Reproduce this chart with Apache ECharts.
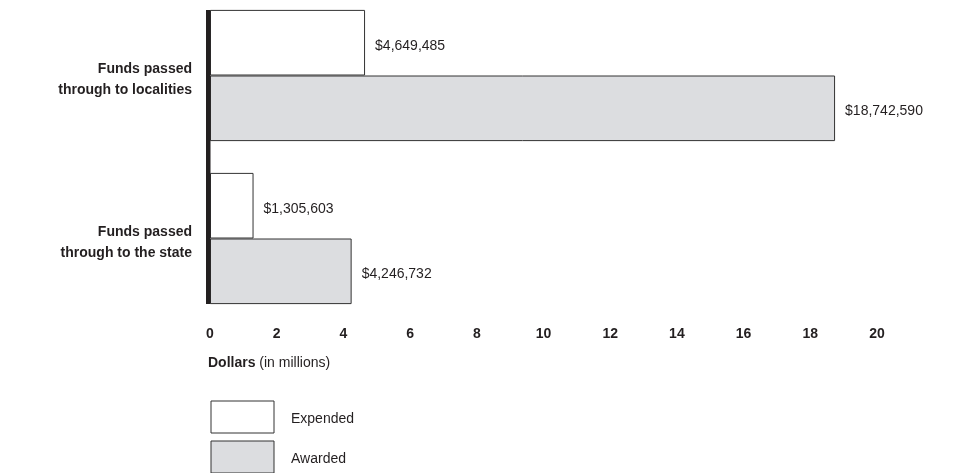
<!DOCTYPE html>
<html>
<head>
<meta charset="utf-8">
<script src="https://cdn.jsdelivr.net/npm/echarts@6/dist/echarts.min.js"></script>
<style>
  html, body { margin: 0; padding: 0; background: #fff; }
  #chart { width: 967px; height: 473px; }
</style>
</head>
<body>
<div id="chart"></div>
<script>
// categories, top to bottom
const categories = ['Funds passed\nthrough to localities', 'Funds passed\nthrough to the state'];
// dollars
const expended = [4649485, 1305603];
const awarded = [18742590, 4246732];
const xTicks = [0, 2, 4, 6, 8, 10, 12, 14, 16, 18, 20];

const ink = '#231f20';
const font = '"Liberation Sans", Arial, Helvetica, sans-serif';
const fmt = v => '$' + v.toLocaleString('en-US');

const chart = echarts.init(document.getElementById('chart'));

const barStyle = (fill) => ({ color: fill, borderColor: '#333', borderWidth: 1 });
const valueLabel = {
  show: true,
  position: 'right',
  distance: 10,
  offset: [0, 3],
  color: ink,
  fontFamily: font,
  fontSize: 14,
  formatter: p => fmt(p.data.raw)
};
// one legend box per series, stacked
const legendBox = (name, top) => ({
  left: 210.5,
  top: top,
  itemWidth: 63,
  itemHeight: 32,
  icon: 'rect',
  padding: 0,
  selectedMode: false,
  itemStyle: { borderWidth: 1, borderColor: '#333' },
  formatter: n => '{t|' + n + '}',
  textStyle: {
    fontFamily: font, fontSize: 14, color: ink, padding: [0, 0, 0, 12],
    rich: { t: { fontFamily: font, fontSize: 14, color: ink, lineHeight: 16, padding: [5, 0, 0, 0] } }
  },
  data: [name]
});

chart.setOption({
  animation: false,
  textStyle: { fontFamily: font, color: ink },
  grid: { left: 210, right: 90, top: -6, bottom: 153, outerBoundsMode: 'none', containLabel: false },
  title: {
    text: '{b|Dollars} (in millions)',
    left: 208,
    top: 356,
    padding: 0,
    textStyle: {
      fontFamily: font, fontSize: 14, fontWeight: 'normal', color: ink,
      rich: { b: { fontFamily: font, fontSize: 14, fontWeight: 'bold', color: ink } }
    }
  },
  legend: [legendBox('Expended', 400.5), legendBox('Awarded', 440.5)],
  xAxis: {
    type: 'value',
    min: 0,
    max: 20,
    interval: 2,
    axisLine: { show: false },
    axisTick: { show: false },
    splitLine: { show: false },
    axisLabel: {
      margin: 7,
      fontFamily: font,
      fontSize: 14,
      fontWeight: 'bold',
      color: ink,
      formatter: v => xTicks.includes(v) ? String(v) : ''
    }
  },
  yAxis: {
    type: 'category',
    inverse: true,
    data: categories,
    axisLine: { show: false },
    axisTick: { show: false },
    axisLabel: {
      margin: 18,
      align: 'right',
      color: ink,
      // each line nudged down a few px, as in the source
      formatter: v => v.split('\n').map(s => '{c|' + s + '}').join('\n'),
      rich: {
        c: {
          fontFamily: font, fontSize: 14, fontWeight: 'bold', color: ink,
          align: 'right', lineHeight: 21, padding: [8, 0, 0, 0]
        }
      }
    }
  },
  series: [
    {
      name: 'Expended',
      type: 'bar',
      barGap: 0,
      barCategoryGap: '19.5%',
      data: expended.map(v => ({ value: v / 1e6, raw: v })),
      itemStyle: barStyle('#ffffff'),
      label: valueLabel
    },
    {
      name: 'Awarded',
      type: 'bar',
      data: awarded.map(v => ({ value: v / 1e6, raw: v })),
      itemStyle: barStyle('#dcdde0'),
      label: valueLabel
    }
  ]
});

// thick baseline spanning the bars only
const drawBaseline = () => {
  const x0 = chart.convertToPixel({ xAxisIndex: 0 }, 0);
  const yTop = chart.convertToPixel({ yAxisIndex: 0 }, 0);
  const yBot = chart.convertToPixel({ yAxisIndex: 0 }, categories.length - 1);
  const band = Math.abs(yBot - yTop) / (categories.length - 1);
  const half = band * (1 - 0.195) / 2;
  chart.setOption({
    graphic: [{
      type: 'rect',
      z: 100,
      shape: { x: x0 - 4, y: yTop - half, width: 4.5, height: (yBot - yTop) + 2 * half },
      style: { fill: ink }
    }]
  });
};
drawBaseline();
</script>
</body>
</html>
